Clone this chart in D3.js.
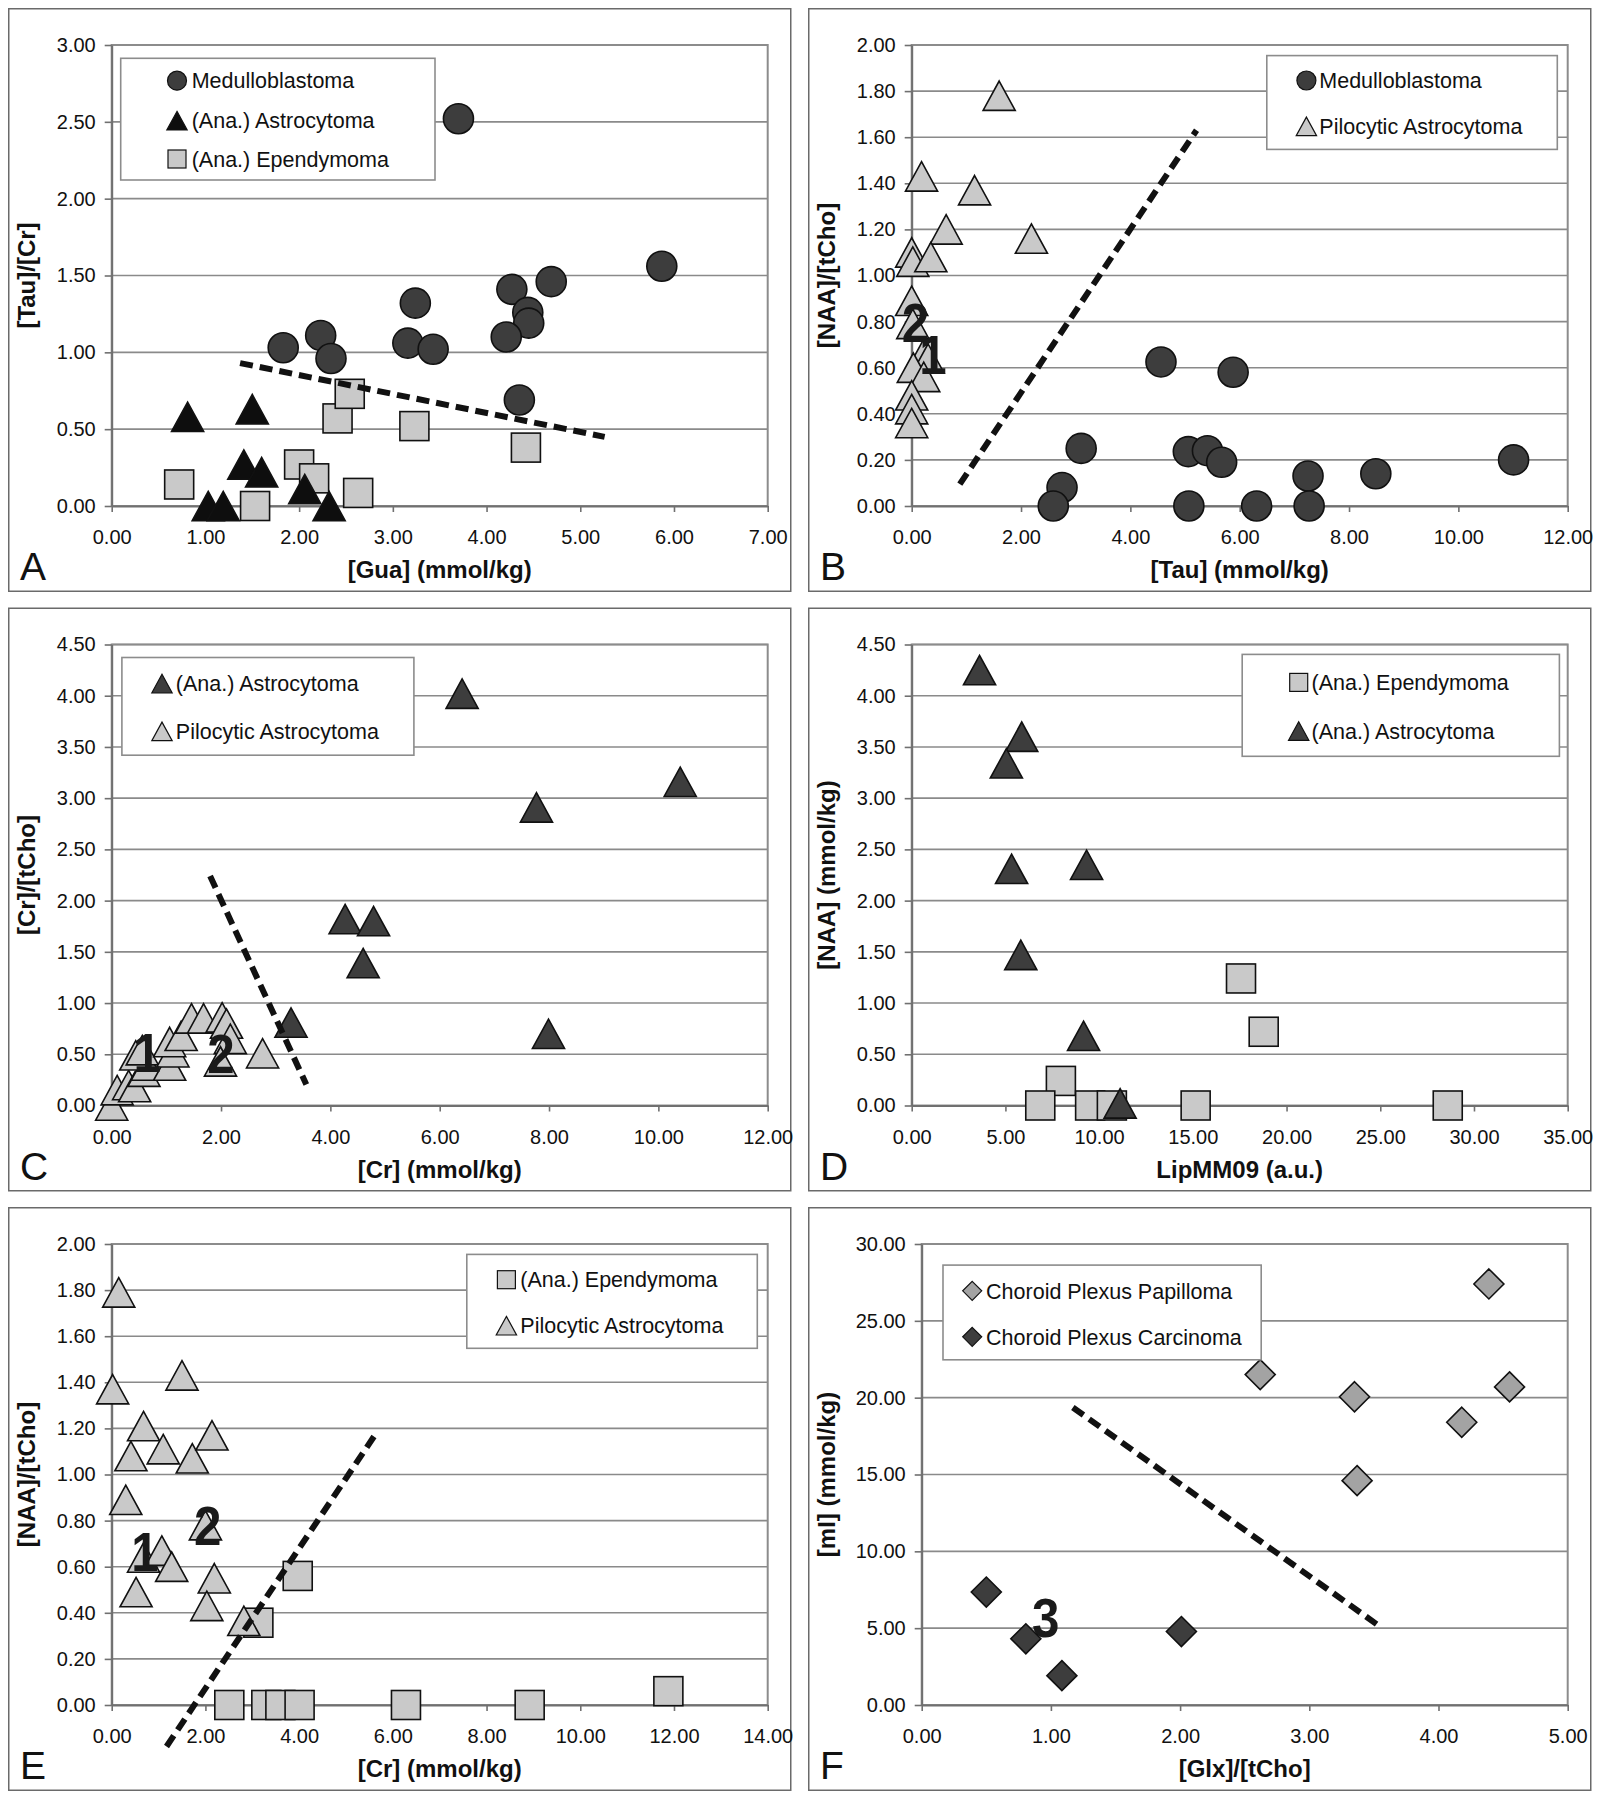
<!DOCTYPE html>
<html><head><meta charset="utf-8">
<script src="https://cdn.jsdelivr.net/npm/d3@7"></script>
<style>
body{margin:0;background:#fff}
svg{display:block}
text{font-family:"Liberation Sans",Arial,Helvetica,sans-serif}
</style>
</head><body>
<svg id="chart" width="1600" height="1800"></svg>
<script>
// ---------------- DATA ----------------
// Panel A
const aXTicks = [0,1,2,3,4,5,6,7];
const aYTicks = [0,0.5,1,1.5,2,2.5,3];
const aMedulloX = [3.70,5.87,4.69,4.27,4.44,4.45,4.21,3.24,3.16,3.43,2.23,1.83,2.34,4.35];
const aMedulloY = [2.52,1.56,1.46,1.41,1.26,1.19,1.10,1.32,1.06,1.02,1.11,1.03,0.96,0.69];
const aAstroX = [0.81,1.50,1.41,1.60,1.03,1.19,2.06,2.32];
const aAstroY = [0.58,0.63,0.27,0.22,0.00,0.00,0.11,0.00];
const aEpendX = [0.72,1.53,2.00,2.16,2.41,2.54,2.63,3.23,4.42];
const aEpendY = [0.14,0.00,0.27,0.18,0.57,0.73,0.085,0.52,0.38];
const aLineX = [1.37,5.26];
const aLineY = [0.93,0.45];

// Panel B
const bXTicks = [0,2,4,6,8,10,12];
const bYTicks = [0,0.2,0.4,0.6,0.8,1.0,1.2,1.4,1.6,1.8,2.0];
const bMedulloX = [4.56,5.88,3.10,2.75,2.59,5.06,5.41,5.67,5.07,6.31,7.25,7.27,8.49,11.01];
const bMedulloY = [0.625,0.58,0.25,0.08,0.00,0.236,0.24,0.19,0.00,0.00,0.13,0.00,0.14,0.20];
const bPiloX = [1.60,0.18,1.15,0.63,2.19,0.00,0.02,0.35,0.00,0.02,0.22,0.30,0.03,0.22,0.00,0.00,0.00];
const bPiloY = [1.78,1.43,1.37,1.20,1.16,1.10,1.06,1.08,0.89,0.79,0.66,0.64,0.60,0.56,0.48,0.42,0.36];
const bLineX = [0.88,5.21];
const bLineY = [0.095,1.63];
const bNumText = ["2","1"];
const bNumX = [0.07,0.39];
const bNumY = [0.80,0.66];

// Panel C
const cXTicks = [0,2,4,6,8,10,12];
const cYTicks = [0,0.5,1,1.5,2,2.5,3,3.5,4,4.5];
const cAstroX = [6.41,10.40,7.77,4.27,4.79,4.60,3.28,7.99];
const cAstroY = [4.02,3.16,2.91,1.82,1.80,1.39,0.81,0.70];
const cPiloX = [0.00,0.10,0.31,0.42,0.59,0.65,0.44,0.56,1.06,1.12,1.06,1.27,1.46,1.68,2.02,2.10,2.17,1.99,2.76];
const cPiloY = [0.00,0.15,0.20,0.18,0.33,0.39,0.49,0.54,0.39,0.52,0.62,0.68,0.85,0.85,0.86,0.80,0.65,0.43,0.51];
const cLineX = [1.80,3.56];
const cLineY = [2.24,0.205];
const cNumText = ["1","2"];
const cNumX = [0.65,2.00];
const cNumY = [0.52,0.51];

// Panel D
const dXTicks = [0,5,10,15,20,25,30,35];
const dYTicks = [0,0.5,1,1.5,2,2.5,3,3.5,4,4.5];
const dEpendX = [17.57,18.78,7.96,6.86,9.52,10.68,15.15,28.60];
const dEpendY = [1.24,0.72,0.24,0.00,0.00,0.00,0.00,0.00];
const dAstroX = [3.62,5.87,5.05,5.33,9.33,5.82,9.17,11.12];
const dAstroY = [4.25,3.60,3.34,2.31,2.35,1.47,0.68,0.02];

// Panel E
const eXTicks = [0,2,4,6,8,10,12,14];
const eYTicks = [0,0.2,0.4,0.6,0.8,1.0,1.2,1.4,1.6,1.8,2.0];
const eEpendX = [3.97,3.13,2.51,3.30,3.60,4.01,6.28,8.92,11.88];
const eEpendY = [0.56,0.357,0.00,0.00,0.00,0.00,0.00,0.00,0.06];
const ePiloX = [0.15,0.02,1.50,0.68,1.10,0.41,1.72,2.14,0.30,2.00,0.68,1.07,1.28,2.19,0.52,2.03,2.82];
const ePiloY = [1.79,1.37,1.43,1.21,1.11,1.08,1.07,1.17,0.89,0.78,0.64,0.67,0.60,0.55,0.49,0.43,0.365];
const eLineX = [1.17,5.68];
const eLineY = [-0.18,1.19];
const eNumText = ["1","2"];
const eNumX = [0.71,2.05];
const eNumY = [0.67,0.78];

// Panel F
const fXTicks = [0,1,2,3,4,5];
const fYTicks = [0,5,10,15,20,25,30];
const fPapX = [4.39,2.62,3.35,4.55,4.18,3.37];
const fPapY = [27.4,21.5,20.06,20.7,18.4,14.6];
const fCarX = [0.50,0.806,1.085,2.01];
const fCarY = [7.35,4.31,1.91,4.78];
const fLineX = [1.17,3.56];
const fLineY = [19.36,5.03];
const fNumText = ["3"];
const fNumX = [0.96];
const fNumY = [5.72];

// ---------------- STYLES ----------------
const COL = {dark:"#3d3d3d", black:"#0e0e0e", light:"#c9c9c9", mid:"#a3a3a3"};
const zip = (xs, ys) => xs.map((x,i)=>[x, ys[i]]);

const panels = [
  {letter:"A", ox:8, oy:8, xMax:7, yMax:3, xTicks:aXTicks, yTicks:aYTicks,
   xTitle:"[Gua] (mmol/kg)", yTitle:"[Tau]/[Cr]",
   series:[
     {name:"Medulloblastoma", shape:"circle", fill:COL.dark, pts:zip(aMedulloX,aMedulloY)},
     {name:"(Ana.) Astrocytoma", shape:"triangle", fill:COL.black, pts:zip(aAstroX,aAstroY)},
     {name:"(Ana.) Ependymoma", shape:"square", fill:COL.light, pts:zip(aEpendX,aEpendY)}],
   drawOrder:[2,1,0],
   line:zip(aLineX,aLineY),
   legend:{x:112.7,y:50.3,w:314.3,h:121.7,rows:[72.7,112.7,151],mx:169,tx:183.7}},
  {letter:"B", ox:808, oy:8, xMax:12, yMax:2, xTicks:bXTicks, yTicks:bYTicks,
   xTitle:"[Tau] (mmol/kg)", yTitle:"[NAA]/[tCho]",
   series:[
     {name:"Medulloblastoma", shape:"circle", fill:COL.dark, pts:zip(bMedulloX,bMedulloY)},
     {name:"Pilocytic Astrocytoma", shape:"triangle", fill:COL.light, pts:zip(bPiloX,bPiloY)}],
   drawOrder:[0,1],
   line:zip(bLineX,bLineY),
   nums:bNumText.map((t,i)=>({t, x:bNumX[i], y:bNumY[i]})),
   legend:{x:458.8,y:47.6,w:290.5,h:93.8,rows:[72.5,118.4],mx:498.4,tx:511.3}},
  {letter:"C", ox:8, oy:607.5, xMax:12, yMax:4.5, xTicks:cXTicks, yTicks:cYTicks,
   xTitle:"[Cr] (mmol/kg)", yTitle:"[Cr]/[tCho]",
   series:[
     {name:"(Ana.) Astrocytoma", shape:"triangle", fill:COL.dark, pts:zip(cAstroX,cAstroY)},
     {name:"Pilocytic Astrocytoma", shape:"triangle", fill:COL.light, pts:zip(cPiloX,cPiloY)}],
   drawOrder:[0,1],
   line:zip(cLineX,cLineY),
   nums:cNumText.map((t,i)=>({t, x:cNumX[i], y:cNumY[i]})),
   legend:{x:113.9,y:50,w:292,h:97.7,rows:[76,123.9],mx:154,tx:167.8}},
  {letter:"D", ox:808, oy:607.5, xMax:35, yMax:4.5, xTicks:dXTicks, yTicks:dYTicks,
   xTitle:"LipMM09 (a.u.)", yTitle:"[NAA] (mmol/kg)",
   series:[
     {name:"(Ana.) Ependymoma", shape:"square", fill:COL.light, pts:zip(dEpendX,dEpendY)},
     {name:"(Ana.) Astrocytoma", shape:"triangle", fill:COL.dark, pts:zip(dAstroX,dAstroY)}],
   drawOrder:[0,1],
   legend:{x:434.2,y:46.9,w:317.2,h:101.9,rows:[74.9,123.5],mx:490.7,tx:503.6}},
  {letter:"E", ox:8, oy:1207, xMax:14, yMax:2, xTicks:eXTicks, yTicks:eYTicks,
   xTitle:"[Cr] (mmol/kg)", yTitle:"[NAA]/[tCho]",
   series:[
     {name:"(Ana.) Ependymoma", shape:"square", fill:COL.light, pts:zip(eEpendX,eEpendY)},
     {name:"Pilocytic Astrocytoma", shape:"triangle", fill:COL.light, pts:zip(ePiloX,ePiloY)}],
   drawOrder:[0,1],
   line:zip(eLineX,eLineY),
   nums:eNumText.map((t,i)=>({t, x:eNumX[i], y:eNumY[i]})),
   legend:{x:458.8,y:47.4,w:290.5,h:93.9,rows:[72.7,118.7],mx:498.4,tx:512.3}},
  {letter:"F", ox:808, oy:1207, xMax:5, yMax:30, xTicks:fXTicks, yTicks:fYTicks,
   xTitle:"[Glx]/[tCho]", yTitle:"[mI] (mmol/kg)", left:113.7,
   series:[
     {name:"Choroid Plexus Papilloma", shape:"diamond", fill:COL.mid, pts:zip(fPapX,fPapY)},
     {name:"Choroid Plexus Carcinoma", shape:"diamond", fill:COL.dark, pts:zip(fCarX,fCarY)}],
   drawOrder:[0,1], numsUnder:true,
   line:zip(fLineX,fLineY),
   nums:fNumText.map((t,i)=>({t, x:fNumX[i], y:fNumY[i]})),
   legend:{x:135,y:58.1,w:318.2,h:94.7,rows:[83.8,129.8],mx:164.2,tx:178.1}}
];

const PW = 783.5, PH = 584;
const TOP = 37, BOTTOM = 498, RIGHT = 759.7;

function marker(g, shape, fill, x, y, s, sw){
  if(shape==="circle"){
    g.append("circle").attr("cx",x).attr("cy",y).attr("r",s/2)
      .attr("fill",fill).attr("stroke","#111").attr("stroke-width",sw);
  } else if(shape==="square"){
    g.append("rect").attr("x",x-s/2+0.5).attr("y",y-s/2+0.5).attr("width",s-1).attr("height",s-1)
      .attr("fill",fill).attr("stroke","#111").attr("stroke-width",sw);
  } else if(shape==="triangle"){
    const w = s*1.07, h = s*0.98;
    g.append("path").attr("d",`M${x},${y-h/2}L${x+w/2},${y+h/2}L${x-w/2},${y+h/2}Z`)
      .attr("fill",fill).attr("stroke","#111").attr("stroke-width",sw).attr("stroke-linejoin","miter");
  } else if(shape==="diamond"){
    const r = s/2;
    g.append("path").attr("d",`M${x},${y-r}L${x+r},${y}L${x},${y+r}L${x-r},${y}Z`)
      .attr("fill",fill).attr("stroke","#111").attr("stroke-width",sw);
  }
}

const svg = d3.select("#chart");
svg.append("rect").attr("width",1600).attr("height",1800).attr("fill","#fff");

panels.forEach(p=>{
  const g = svg.append("g").attr("transform",`translate(${p.ox},${p.oy})`);
  const L = p.left || 103.7;
  const x = d3.scaleLinear().domain([0,p.xMax]).range([L,RIGHT]);
  const y = d3.scaleLinear().domain([0,p.yMax]).range([BOTTOM,TOP]);

  g.append("rect").attr("x",0.75).attr("y",0.75).attr("width",PW-1.5).attr("height",PH-1.5)
    .attr("fill","none").attr("stroke","#6a6a6a").attr("stroke-width",1.5);

  g.append("g").selectAll("line").data(p.yTicks.filter(t=>t>0)).join("line")
    .attr("x1",L).attr("x2",RIGHT).attr("y1",d=>y(d)).attr("y2",d=>y(d))
    .attr("stroke","#8a8a8a").attr("stroke-width",1.6);

  g.append("rect").attr("x",L).attr("y",TOP).attr("width",RIGHT-L).attr("height",BOTTOM-TOP)
    .attr("fill","none").attr("stroke","#8c8c8c").attr("stroke-width",2);

  const yAxis = d3.axisLeft(y).tickValues(p.yTicks).tickFormat(d3.format(".2f"))
    .tickSize(7).tickSizeOuter(0).tickPadding(9);
  const xAxis = d3.axisBottom(x).tickValues(p.xTicks).tickFormat(d3.format(".2f"))
    .tickSize(6).tickSizeOuter(0).tickPadding(18);
  const ya = g.append("g").attr("transform",`translate(${L},0)`).call(yAxis);
  const xa = g.append("g").attr("transform",`translate(0,${BOTTOM})`).call(xAxis);
  [ya,xa].forEach(a=>{
    a.select(".domain").attr("stroke","#707070").attr("stroke-width",2);
    a.selectAll(".tick line").attr("stroke","#707070").attr("stroke-width",1.6);
    a.selectAll(".tick text").attr("fill","#111").style("font-size","20px")
      .style("font-family",'"Liberation Sans",Arial,sans-serif');
  });

  g.append("text").attr("x",(L+RIGHT)/2).attr("y",570).attr("text-anchor","middle")
    .style("font-size","24px").style("font-weight","bold").attr("fill","#111").text(p.xTitle);
  g.append("text").attr("transform",`translate(27,${(TOP+BOTTOM)/2}) rotate(-90)`)
    .attr("text-anchor","middle").style("font-size","24px").style("font-weight","bold")
    .attr("fill","#111").text(p.yTitle);
  g.append("text").attr("x",12).attr("y",572).style("font-size","39px").attr("fill","#111").text(p.letter);

  const drawNums = ()=>{
    (p.nums||[]).forEach(n=>{
      g.append("g").attr("transform",`translate(${x(n.x)},${y(n.y)}) scale(0.88,1)`)
        .append("text").attr("dy","0.36em")
        .attr("text-anchor","middle").style("font-size","56px").style("font-weight","bold")
        .attr("fill","#1a1a1a").text(n.t);
    });
  };
  if(p.numsUnder) drawNums();

  const mg = g.append("g");
  p.drawOrder.forEach(si=>{
    const s = p.series[si];
    s.pts.forEach(([vx,vy])=>marker(mg, s.shape, s.fill, x(vx), y(vy), 30, 1.6));
  });

  if(p.line){
    g.append("path").attr("d",d3.line().x(d=>x(d[0])).y(d=>y(d[1]))(p.line))
      .attr("fill","none").attr("stroke","#111").attr("stroke-width",6)
      .attr("stroke-dasharray","13,7");
  }
  if(!p.numsUnder) drawNums();

  const lg = p.legend;
  g.append("rect").attr("x",lg.x).attr("y",lg.y).attr("width",lg.w).attr("height",lg.h)
    .attr("fill","#fff").attr("stroke","#8c8c8c").attr("stroke-width",1.6);
  p.series.forEach((s,i)=>{
    const ry = lg.rows[i];
    marker(g, s.shape, s.fill, lg.mx, ry, 19, 1.2);
    g.append("text").attr("x",lg.tx).attr("y",ry).attr("dy","0.36em")
      .style("font-size","21.5px").attr("fill","#111").text(s.name);
  });
});
</script>
</body></html>
